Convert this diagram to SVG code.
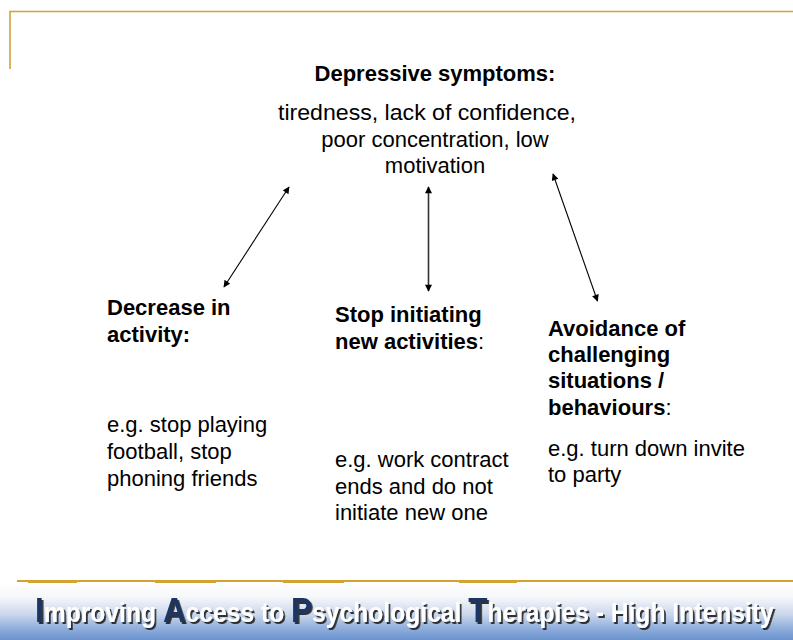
<svg xmlns="http://www.w3.org/2000/svg" width="793" height="640" viewBox="0 0 793 640">
  <defs>
    <style>
      .t { font-family: "Liberation Sans", Arial, sans-serif; font-size: 22px; fill: #000; }
      .b { font-weight: bold; }
      .frame { stroke: #D4A232; fill: none; }
      .conn { stroke: #000; stroke-width: 1.1; fill: none; marker-start: url(#ah); marker-end: url(#ah); }
      .foot { font-family: "Liberation Sans", Arial, sans-serif; font-weight: bold; font-size: 27px; fill: #ffffff; }
      .cap { font-size: 34.5px; fill: #1B3563; }
    </style>
    <marker id="ah" viewBox="0 0 10 10" refX="9" refY="5" markerWidth="9" markerHeight="7" markerUnits="userSpaceOnUse" orient="auto-start-reverse">
      <path d="M0,0 L10,5 L0,10 z" fill="#000"/>
    </marker>
    <linearGradient id="band" x1="0" y1="0" x2="0" y2="1">
      <stop offset="0" stop-color="#ffffff"/>
      <stop offset="0.25" stop-color="#f4f6f9"/>
      <stop offset="0.55" stop-color="#c9d6ec"/>
      <stop offset="0.8" stop-color="#8eaddb"/>
      <stop offset="1" stop-color="#6a93cf"/>
    </linearGradient>
    <filter id="sh" x="-5%" y="-30%" width="110%" height="170%">
      <feDropShadow dx="2" dy="2" stdDeviation="0.7" flood-color="#1a1a1a" flood-opacity="0.9"/>
    </filter>
  </defs>

  <rect x="0" y="0" width="793" height="640" fill="#ffffff"/>

  <!-- top frame -->
  <path class="frame" stroke-width="1.6" d="M10,69 V11.5 H793"/>

  <!-- bottom band -->
  <rect x="0" y="584" width="793" height="56" fill="url(#band)"/>
  <g fill="#D4A232">
    <rect x="17" y="580" width="776" height="2"/>
    <rect x="28" y="580" width="49" height="3"/>
    <rect x="155" y="580" width="61" height="3"/>
    <rect x="283" y="580" width="61" height="3"/>
    <rect x="459" y="580" width="58" height="3"/>
  </g>

  <!-- footer title -->
  <g transform="translate(35,622) scale(0.913,1)">
    <text class="foot" x="0" y="0" filter="url(#sh)"><tspan class="cap">I</tspan>mproving <tspan class="cap">A</tspan>ccess to <tspan class="cap">P</tspan>sychological <tspan class="cap">T</tspan>herapies - High Intensity</text>
  </g>

  <!-- connectors -->
  <g id="connectors">
    <line class="conn" x1="289" y1="187" x2="224" y2="287"/>
    <line class="conn" x1="428.5" y1="187" x2="428.5" y2="291" style="stroke:#333;stroke-width:1.6"/>
    <line class="conn" x1="553" y1="174" x2="597.5" y2="301"/>
  </g>

  <!-- nodes -->
  <g id="n-depressive">
    <text class="t b" x="435" y="81" text-anchor="middle">Depressive symptoms:</text>
    <text class="t" x="427" y="120" text-anchor="middle" textLength="298" lengthAdjust="spacingAndGlyphs">tiredness, lack of confidence,</text>
    <text class="t" x="435" y="147" text-anchor="middle">poor concentration, low</text>
    <text class="t" x="435" y="173" text-anchor="middle">motivation</text>
  </g>

  <g id="n-decrease">
    <text class="t b" x="107" y="315">Decrease in</text>
    <text class="t b" x="107" y="342">activity:</text>
    <text class="t" x="107" y="432">e.g. stop playing</text>
    <text class="t" x="107" y="459">football, stop</text>
    <text class="t" x="107" y="486">phoning friends</text>
  </g>

  <g id="n-stop">
    <text class="t b" x="335" y="322">Stop initiating</text>
    <text class="t" x="335" y="349"><tspan class="b">new activities</tspan>:</text>
    <text class="t" x="335" y="467">e.g. work contract</text>
    <text class="t" x="335" y="494">ends and do not</text>
    <text class="t" x="335" y="520">initiate new one</text>
  </g>

  <g id="n-avoid">
    <text class="t b" x="548" y="336">Avoidance of</text>
    <text class="t b" x="548" y="362">challenging</text>
    <text class="t b" x="548" y="388">situations /</text>
    <text class="t" x="548" y="415"><tspan class="b">behaviours</tspan>:</text>
    <text class="t" x="548" y="456">e.g. turn down invite</text>
    <text class="t" x="548" y="482">to party</text>
  </g>
</svg>
